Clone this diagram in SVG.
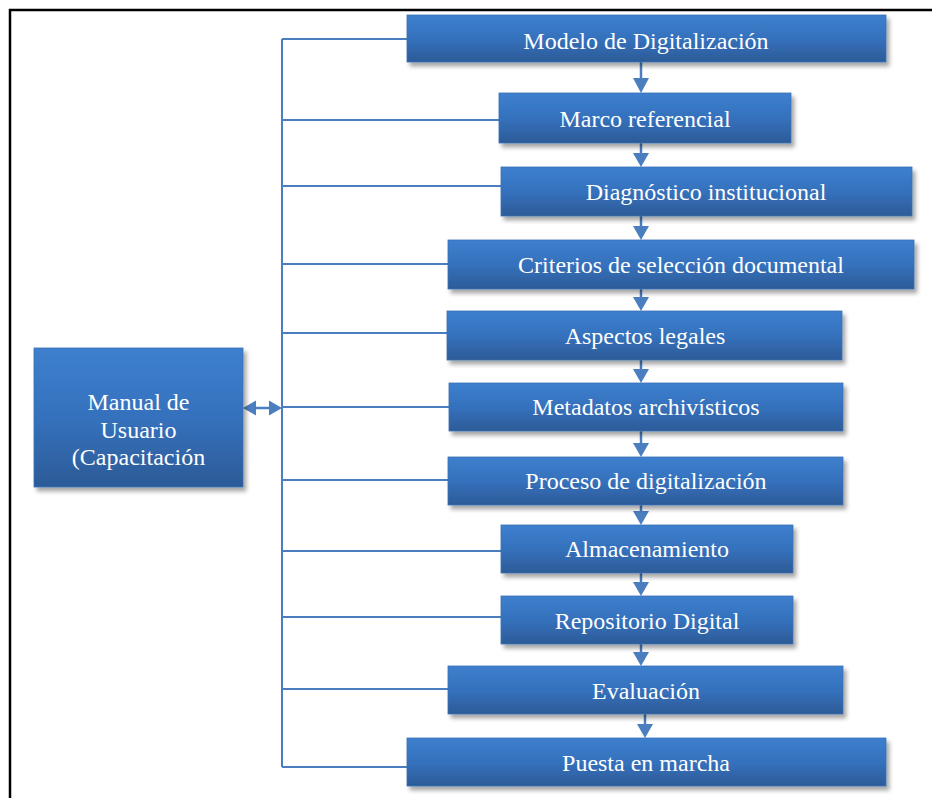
<svg xmlns="http://www.w3.org/2000/svg" width="932" height="798" viewBox="0 0 932 798">
<style>
.box{fill:url(#g);stroke:#3a70b4;stroke-width:0.8;filter:url(#sh)}
.t{font-family:'Liberation Serif','Times New Roman',serif;font-size:24px;fill:#ffffff;text-anchor:middle}
.ln{stroke:#4a7ebf;stroke-width:2;fill:none}
.ar{stroke:#4a7ebf;stroke-width:2.5;fill:none}
.hd{fill:#4a7ebf}
</style>
<defs>
<linearGradient id="g" x1="0" y1="0" x2="0" y2="1">
<stop offset="0" stop-color="#3d80ce"/>
<stop offset="0.5" stop-color="#3571bd"/>
<stop offset="1" stop-color="#2c5b97"/>
</linearGradient>
<filter id="sh" x="-5%" y="-10%" width="115%" height="140%">
<feDropShadow dx="3" dy="4" stdDeviation="2.2" flood-color="#000" flood-opacity="0.35"/>
</filter>
</defs>
<rect width="932" height="798" fill="#ffffff"/>
<path d="M10,798 V10 H932" fill="none" stroke="#000" stroke-width="2.5"/>

<g id="connectors">
<path class="ln" d="M282,39 V767"/>
<path class="ln" d="M282,39 H407 M282,120 H499 M282,186 H501 M282,264 H448 M282,333 H447 M282,407 H449 M282,480 H448 M282,551 H501 M282,617 H501 M282,689 H448 M282,767 H407"/>
<path class="ar" d="M255,408 H269"/>
<polygon class="hd" points="243,408 256,400.5 256,415.5"/>
<polygon class="hd" points="282,408 269,400.5 269,415.5"/>
<g>
<path class="ar" d="M641,62 V80"/><polygon class="hd" points="641,93 633,78 649,78"/>
<path class="ar" d="M641,143 V155"/><polygon class="hd" points="641,167 633,153 649,153"/>
<path class="ar" d="M641,216 V228"/><polygon class="hd" points="641,240 633,226 649,226"/>
<path class="ar" d="M641,289 V299"/><polygon class="hd" points="641,311 633,297 649,297"/>
<path class="ar" d="M641,360 V371"/><polygon class="hd" points="641,383 633,369 649,369"/>
<path class="ar" d="M641,431 V445"/><polygon class="hd" points="641,457 633,443 649,443"/>
<path class="ar" d="M641,505 V513"/><polygon class="hd" points="641,525 633,511 649,511"/>
<path class="ar" d="M641,573 V584"/><polygon class="hd" points="641,596 633,582 649,582"/>
<path class="ar" d="M641,644 V654"/><polygon class="hd" points="641,666 633,652 649,652"/>
<path class="ar" d="M645,714 V726"/><polygon class="hd" points="645,738 637,724 653,724"/>
</g>
</g>

<g id="manual">
<rect class="box" x="34" y="348" width="209" height="139"/>
<text class="t" x="138.5" y="410">Manual de</text>
<text class="t" x="138.5" y="438">Usuario</text>
<text class="t" x="138.5" y="465">(Capacitación</text>
</g>
<g id="modelo">
<rect class="box" x="407" y="15" width="479" height="47"/>
<text class="t" x="646" y="49">Modelo de Digitalización</text>
</g>
<g id="marco">
<rect class="box" x="499" y="93" width="292" height="50"/>
<text class="t" x="645" y="127">Marco referencial</text>
</g>
<g id="diagnostico">
<rect class="box" x="501" y="167" width="411" height="49"/>
<text class="t" x="706" y="200">Diagnóstico institucional</text>
</g>
<g id="criterios">
<rect class="box" x="448" y="240" width="466" height="49"/>
<text class="t" x="681" y="273">Criterios de selección documental</text>
</g>
<g id="aspectos">
<rect class="box" x="447" y="311" width="395" height="49"/>
<text class="t" x="645" y="344">Aspectos legales</text>
</g>
<g id="metadatos">
<rect class="box" x="449" y="383" width="394" height="48"/>
<text class="t" x="646" y="415">Metadatos archivísticos</text>
</g>
<g id="proceso">
<rect class="box" x="448" y="457" width="395" height="48"/>
<text class="t" x="646" y="489">Proceso de digitalización</text>
</g>
<g id="almacenamiento">
<rect class="box" x="501" y="525" width="292" height="48"/>
<text class="t" x="647" y="557">Almacenamiento</text>
</g>
<g id="repositorio">
<rect class="box" x="501" y="596" width="292" height="48"/>
<text class="t" x="647" y="629">Repositorio Digital</text>
</g>
<g id="evaluacion">
<rect class="box" x="448" y="666" width="395" height="48"/>
<text class="t" x="646" y="699">Evaluación</text>
</g>
<g id="puesta">
<rect class="box" x="407" y="738" width="479" height="48"/>
<text class="t" x="646" y="771">Puesta en marcha</text>
</g>
</svg>
